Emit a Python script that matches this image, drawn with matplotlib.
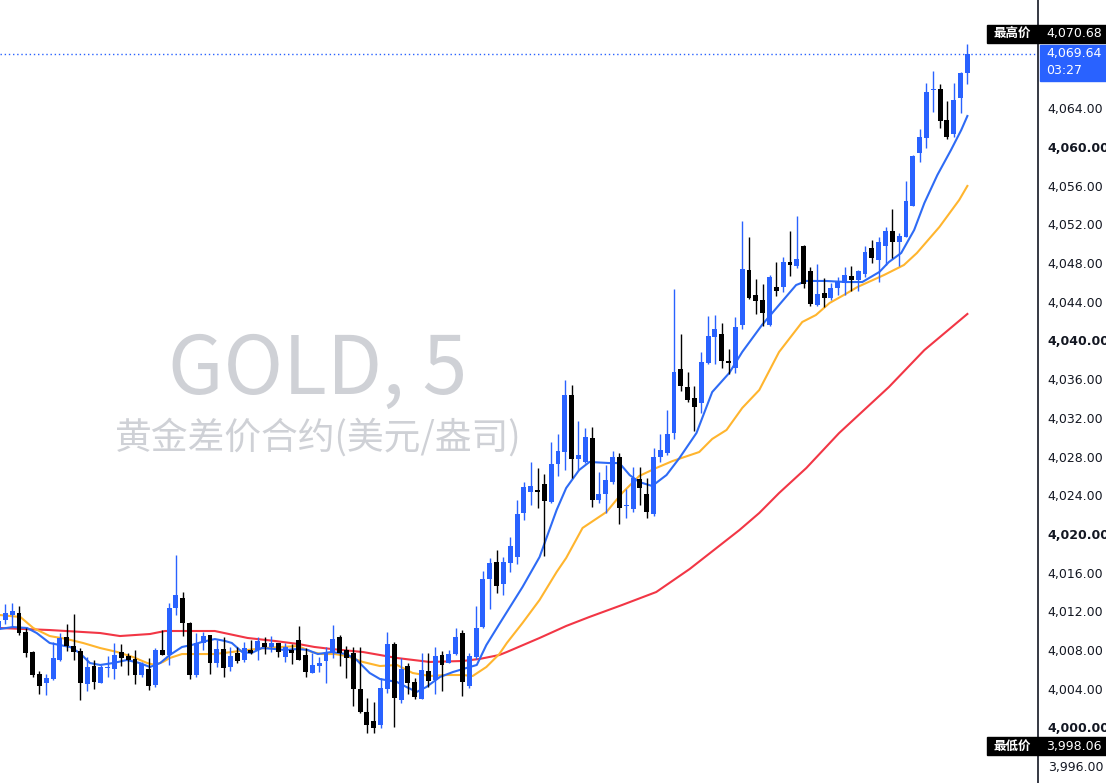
import matplotlib
matplotlib.use("Agg")
import matplotlib.pyplot as plt
from matplotlib.patches import Rectangle
from matplotlib.transforms import blended_transform_factory

plt.rcParams["font.family"] = ["DejaVu Sans", "Noto Sans CJK SC"]

# 5-minute candles, oldest first
opens = [
    4010.18, 4011.11, 4011.62, 4011.86, 4009.90, 4007.80, 4005.53, 4004.63, 4005.01, 4006.97,
    4009.32, 4008.42, 4007.90, 4004.52, 4006.38, 4004.63, 4006.18, 4006.01, 4007.83, 4007.39,
    4007.08, 4005.42, 4006.07, 4004.39, 4008.01, 4007.49, 4012.38, 4013.35, 4010.80, 4005.42,
    4008.70, 4009.56, 4006.69, 4008.11, 4006.28, 4007.70, 4006.97, 4008.01, 4008.01, 4008.70,
    4008.29, 4008.70, 4007.31, 4008.01, 4009.04, 4007.49, 4005.66, 4006.38, 4006.87, 4007.73,
    4009.32, 4008.01, 4007.67, 4003.94, 4001.60, 4000.67, 4000.25, 4004.01, 4008.63, 4002.84,
    4006.35, 4004.67, 4002.97, 4005.83, 4004.91, 4007.49, 4006.69, 4007.59, 4009.73, 4004.32,
    4007.31, 4010.41, 4015.34, 4017.07, 4014.83, 4017.03, 4017.57, 4022.20, 4024.29, 4024.54,
    4025.16, 4023.34, 4027.23, 4028.50, 4034.36, 4027.75, 4027.47, 4029.89, 4023.51, 4024.13,
    4025.40, 4027.92, 4022.92, 4022.55, 4025.68, 4024.10, 4022.06, 4027.92, 4028.40, 4030.40,
    4037.05, 4035.16, 4034.05, 4033.57, 4037.64, 4040.39, 4040.64, 4037.88, 4037.12, 4041.60,
    4047.28, 4044.70, 4044.18, 4041.60, 4045.49, 4045.49, 4048.11, 4047.73, 4049.76, 4047.18,
    4043.67, 4044.88, 4044.39, 4045.39, 4045.91, 4046.66, 4046.25, 4046.87, 4049.53, 4048.32,
    4049.80, 4051.31, 4050.21, 4050.73, 4053.93, 4059.35, 4060.96, 4065.92, 4065.99, 4062.79,
    4061.34, 4065.09, 4067.61,
]
highs = [
    4011.32, 4012.76, 4012.90, 4012.55, 4010.31, 4007.90, 4005.83, 4005.53, 4008.80, 4009.76,
    4010.69, 4011.73, 4008.18, 4007.25, 4006.97, 4006.46, 4007.39, 4008.70, 4008.63, 4007.67,
    4008.01, 4006.80, 4007.21, 4008.18, 4010.07, 4012.86, 4017.83, 4013.97, 4010.93, 4009.79,
    4009.90, 4009.56, 4009.04, 4009.32, 4008.29, 4008.29, 4008.86, 4009.04, 4009.32, 4009.32,
    4009.45, 4008.70, 4008.70, 4008.63, 4010.49, 4008.18, 4007.67, 4007.25, 4008.29, 4010.59,
    4009.56, 4008.42, 4008.29, 4008.29, 4003.01, 4002.66, 4005.08, 4009.84, 4008.86, 4007.21,
    4006.69, 4005.08, 4007.67, 4007.67, 4008.29, 4007.90, 4008.01, 4010.28, 4010.07, 4007.67,
    4012.55, 4016.17, 4017.48, 4018.34, 4017.65, 4019.72, 4023.51, 4025.37, 4027.44, 4026.82,
    4026.20, 4029.54, 4030.33, 4035.91, 4035.40, 4031.68, 4030.92, 4031.02, 4026.43, 4027.13,
    4028.61, 4028.34, 4024.62, 4026.89, 4026.89, 4025.75, 4028.85, 4030.33, 4032.81, 4045.29,
    4040.67, 4036.71, 4035.32, 4038.78, 4042.53, 4042.63, 4041.77, 4039.12, 4042.39, 4052.35,
    4050.69, 4046.35, 4045.84, 4046.77, 4048.14, 4048.66, 4051.31, 4052.90, 4049.87, 4047.63,
    4047.90, 4046.43, 4045.91, 4046.53, 4047.60, 4047.65, 4047.33, 4049.76, 4050.38, 4050.69,
    4051.68, 4053.56, 4051.14, 4056.48, 4059.17, 4061.83, 4066.58, 4067.85, 4066.51, 4064.75,
    4066.58, 4067.78, 4070.68,
]
lows = [
    4009.97, 4010.69, 4010.41, 4009.56, 4007.31, 4005.25, 4003.46, 4003.39, 4004.91, 4006.87,
    4007.93, 4006.97, 4002.84, 4003.80, 4004.01, 4004.56, 4005.18, 4004.98, 4006.38, 4005.42,
    4004.49, 4005.25, 4003.87, 4004.21, 4007.45, 4006.46, 4011.62, 4009.45, 4005.04, 4005.25,
    4008.01, 4005.53, 4006.28, 4005.25, 4005.87, 4006.69, 4006.80, 4007.59, 4006.97, 4007.59,
    4007.83, 4007.31, 4006.80, 4006.59, 4006.97, 4005.25, 4005.60, 4005.76, 4004.56, 4007.15,
    4006.35, 4005.14, 4002.22, 4001.46, 3999.46, 3999.40, 3999.91, 4003.59, 4000.08, 4002.56,
    4003.46, 4002.97, 4002.97, 4004.21, 4003.43, 4003.77, 4006.63, 4007.46, 4003.28, 4004.11,
    4007.08, 4010.31, 4012.24, 4013.87, 4013.69, 4016.10, 4016.89, 4021.44, 4022.99, 4022.68,
    4017.72, 4023.20, 4025.99, 4026.61, 4025.75, 4026.61, 4027.33, 4022.76, 4023.17, 4022.14,
    4025.20, 4021.00, 4021.62, 4022.27, 4022.99, 4021.62, 4021.86, 4027.44, 4028.16, 4029.78,
    4034.81, 4033.64, 4030.67, 4032.47, 4037.54, 4037.57, 4037.18, 4036.50, 4036.67, 4041.18,
    4044.28, 4042.70, 4041.49, 4041.49, 4044.60, 4045.04, 4046.69, 4047.50, 4045.39, 4043.56,
    4043.56, 4043.49, 4044.18, 4044.65, 4044.65, 4045.14, 4045.16, 4046.51, 4048.04, 4046.04,
    4047.85, 4048.49, 4047.70, 4050.66, 4053.90, 4058.48, 4059.86, 4063.64, 4061.99, 4060.82,
    4061.06, 4063.54, 4066.48,
]
closes = [
    4011.01, 4011.86, 4012.04, 4009.79, 4007.66, 4005.42, 4004.32, 4005.11, 4007.15, 4009.25,
    4008.45, 4007.83, 4004.63, 4006.28, 4004.73, 4006.28, 4006.28, 4007.46, 4007.21, 4006.97,
    4005.42, 4006.56, 4004.29, 4008.01, 4007.49, 4012.32, 4013.69, 4010.83, 4005.42, 4008.70,
    4009.45, 4006.69, 4008.11, 4006.18, 4007.39, 4006.90, 4008.18, 4007.67, 4008.94, 4008.35,
    4008.70, 4007.80, 4008.29, 4007.73, 4006.97, 4005.76, 4006.46, 4006.63, 4007.67, 4009.14,
    4007.73, 4007.21, 4003.94, 4001.63, 4000.25, 3999.91, 4004.08, 4008.63, 4003.01, 4006.04,
    4004.63, 4003.18, 4005.94, 4004.83, 4007.39, 4006.46, 4007.60, 4009.35, 4004.73, 4007.39,
    4010.28, 4015.34, 4017.03, 4014.65, 4017.13, 4018.76, 4022.06, 4024.85, 4024.96, 4024.29,
    4023.44, 4027.23, 4028.57, 4034.36, 4027.75, 4028.16, 4029.99, 4023.51, 4024.13, 4025.58,
    4027.92, 4022.65, 4022.99, 4025.75, 4024.72, 4022.30, 4027.92, 4028.68, 4030.33, 4036.74,
    4035.32, 4033.85, 4033.09, 4037.74, 4040.46, 4041.18, 4037.91, 4037.64, 4041.39, 4047.39,
    4044.42, 4044.11, 4042.87, 4046.53, 4045.14, 4048.08, 4047.77, 4048.42, 4045.80, 4043.80,
    4044.80, 4044.42, 4045.42, 4046.07, 4046.77, 4046.25, 4047.13, 4049.14, 4048.49, 4050.21,
    4051.31, 4050.15, 4050.80, 4054.42, 4059.07, 4061.00, 4065.65, 4065.99, 4062.71, 4061.06,
    4064.86, 4067.68, 4069.64,
]

# moving averages: (candle index, price)
ma_fast_idx = [0.2, 2.1, 4.2, 5.6, 7.5, 9.0, 10.5, 11.9, 13.4, 14.9, 16.8, 18.8, 20.7, 22.2,
               23.7, 25.1, 26.9, 28.3, 29.8, 31.7, 33.2, 34.2, 35.7, 37.1, 38.6, 40.5, 42.0,
               43.9, 45.3, 46.8, 48.8, 51.0, 52.5, 54.4, 55.9, 58.4, 59.8, 61.3, 62.7, 64.7,
               66.6, 68.6, 70.1, 71.5, 73.4, 76.8, 79.3, 81.8, 83.2, 85.1, 86.6, 89.5, 91.0,
               92.5, 93.9, 95.8, 97.9, 99.8, 102.3, 104.6, 107.1, 109.0, 111.9, 114.4, 116.9,
               118.4, 121.3, 124.2, 126.6, 129.1, 130.5, 132.3, 134.2, 135.7, 137.6, 139.6,
               141.1, 142.0]
ma_fast = [4010.18, 4010.38, 4010.28, 4009.76, 4008.73, 4008.52, 4008.32, 4007.70, 4006.66,
           4006.46, 4006.66, 4006.97, 4006.66, 4006.25, 4006.66, 4007.49, 4008.32, 4008.52,
           4008.83, 4009.14, 4008.94, 4008.73, 4007.80, 4007.70, 4008.21, 4008.11, 4008.01,
           4008.11, 4008.01, 4007.59, 4007.80, 4007.59, 4006.97, 4005.63, 4005.01, 4004.70,
           4004.18, 4003.67, 4004.18, 4005.22, 4005.73, 4006.15, 4006.46, 4008.52, 4010.69,
           4014.52, 4017.62, 4022.48, 4024.75, 4026.61, 4027.44, 4027.33, 4027.33, 4026.09,
           4025.37, 4024.96, 4026.09, 4027.85, 4030.44, 4034.67, 4036.64, 4038.81, 4041.60,
           4043.67, 4045.73, 4046.15, 4046.15, 4046.04, 4046.04, 4047.08, 4048.11, 4049.04,
           4051.42, 4054.21, 4057.10, 4059.69, 4061.75, 4063.20]

ma_mid_idx = [0.2, 3.2, 5.1, 7.5, 10.0, 12.4, 14.9, 17.4, 19.7, 21.8, 22.9, 24.1, 25.1, 26.9,
              31.7, 34.2, 36.5, 39.0, 41.5, 43.9, 45.9, 47.4, 49.3, 51.0, 53.4, 55.9, 58.4,
              60.7, 63.2, 65.7, 68.0, 69.5, 71.5, 73.4, 74.5, 76.8, 79.3, 81.8, 83.2, 85.6,
              89.1, 91.4, 93.9, 96.4, 98.8, 102.7, 104.6, 106.7, 109.0, 111.5, 114.4, 117.8,
              119.8, 121.8, 123.9, 125.9, 129.8, 132.7, 134.6, 137.9, 140.8, 142.0]
ma_mid = [4011.62, 4011.42, 4010.28, 4009.45, 4009.14, 4008.73, 4008.21, 4007.80, 4007.28,
          4006.66, 4006.46, 4006.77, 4007.18, 4007.59, 4007.59, 4007.80, 4008.01, 4008.21,
          4008.32, 4008.42, 4007.80, 4007.59, 4007.59, 4007.39, 4006.77, 4006.35, 4006.46,
          4005.63, 4005.32, 4005.42, 4005.42, 4005.32, 4006.25, 4007.59, 4008.73, 4010.80,
          4013.18, 4016.07, 4017.52, 4020.62, 4022.27, 4024.23, 4025.99, 4026.82, 4027.54,
          4028.47, 4029.82, 4030.75, 4033.02, 4034.88, 4038.81, 4041.91, 4042.63, 4043.87,
          4044.70, 4045.53, 4046.77, 4047.80, 4049.04, 4051.73, 4054.52, 4055.97]

ma_slow_idx = [0.2, 7.5, 14.9, 17.8, 22.2, 24.4, 31.7, 36.5, 40.5, 43.9, 46.3, 48.8, 53.4,
               58.4, 63.2, 68.0, 70.5, 73.4, 74.5, 79.3, 83.2, 86.6, 91.4, 96.4, 101.3,
               108.6, 111.5, 114.4, 118.4, 123.2, 130.5, 135.7, 142.0]
ma_slow = [4010.28, 4010.07, 4009.76, 4009.45, 4009.66, 4009.97, 4009.97, 4009.25, 4008.94,
           4008.63, 4008.32, 4008.11, 4007.80, 4007.18, 4006.77, 4006.87, 4007.08, 4007.49,
           4007.80, 4009.25, 4010.49, 4011.42, 4012.66, 4014.00, 4016.38, 4020.41, 4022.17,
           4024.23, 4026.82, 4030.43, 4035.19, 4039.01, 4042.74]

price_ticks = list(range(3996, 4068, 4))
high_price = 4070.68
low_price = 3998.06
last_price = 4069.64
countdown = "03:27"

UP = "#2962FF"
DOWN = "#000000"
TEXT = "#131722"

W, H = 1106, 783
AX_W = 1038
fig = plt.figure(figsize=(W / 100, H / 100), dpi=100)
ax = fig.add_axes([0, 0, AX_W / W, 1])

ax.plot(ma_slow_idx, ma_slow, color="#F23645", lw=1.5, zorder=2)
ax.plot(ma_mid_idx, ma_mid, color="#FFB52E", lw=1.5, zorder=2)
ax.plot(ma_fast_idx, ma_fast, color="#2E6BF5", lw=1.5, zorder=2)

for i, (o, h, l, c) in enumerate(zip(opens, highs, lows, closes)):
    col = UP if c >= o else DOWN
    ax.vlines(i, l, h, color=col, lw=1.0, zorder=3)
    ax.bar(i, max(abs(c - o), 0.08), bottom=min(o, c), width=0.72,
           color=col, lw=0, zorder=4)

ax.axhline(last_price, color=UP, lw=1, ls=(0, (1, 2)), zorder=1)

ax.set_xlim(0.22, 152.35)
ax.set_ylim(3994.26, 4075.19)

ax.text(0.306, 0.527, "GOLD, 5", transform=ax.transAxes, ha="center", va="center",
        fontsize=58, color="#CFD1D6", family=["Noto Sans CJK SC"], zorder=0)
ax.text(0.307, 0.441, "黄金差价合约(美元/盎司)", transform=ax.transAxes, ha="center",
        va="center", fontsize=26.5, color="#CFD1D6", family=["Noto Sans CJK SC"], zorder=0)

for s in ["top", "left", "bottom"]:
    ax.spines[s].set_visible(False)
ax.spines["right"].set_color(TEXT)
ax.spines["right"].set_linewidth(1.2)
ax.set_xticks([])
ax.yaxis.tick_right()
ax.set_yticks(price_ticks)
ax.set_yticklabels([f"{v:,.2f}" for v in price_ticks])
ax.tick_params(axis="y", length=0, pad=7, labelsize=9, labelcolor=TEXT)
for lab, v in zip(ax.get_yticklabels(), price_ticks):
    if v % 20 == 0:
        lab.set_fontweight("bold")

# price tags on the scale
tr = blended_transform_factory(ax.transAxes, ax.transData)
px = 1.0 / AX_W
unit = (4075.19 - 3994.26) / H

def tag(y, label, value, shift=0.0):
    yc = y + shift
    ax.add_patch(Rectangle((987 * px, yc - 9 * unit), (W - 987) * px, 18 * unit,
                           transform=tr, color="black", clip_on=False, zorder=10))
    ax.text(1012 * px, yc, label, transform=tr, ha="center", va="center", color="white",
            fontsize=9, fontweight="bold", family=["Noto Sans CJK SC"], clip_on=False, zorder=11)
    ax.text(1046 * px, yc, value, transform=tr, ha="left", va="center", color="white",
            fontsize=9, clip_on=False, zorder=11)

tag(high_price, "最高价", f"{high_price:,.2f}", shift=10 * unit)
tag(low_price, "最低价", f"{low_price:,.2f}")

ax.add_patch(Rectangle((1040 * px, last_price - 27 * unit), (W - 1040) * px, 36 * unit,
                       transform=tr, color=UP, clip_on=False, zorder=10))
ax.text(1046 * px, last_price, f"{last_price:,.2f}", transform=tr, ha="left", va="center",
        color="white", fontsize=9, clip_on=False, zorder=11)
ax.text(1046 * px, last_price - 17 * unit, countdown, transform=tr, ha="left", va="center",
        color="white", fontsize=9, clip_on=False, zorder=11)

fig.savefig("out.png", dpi=100, facecolor="white")
